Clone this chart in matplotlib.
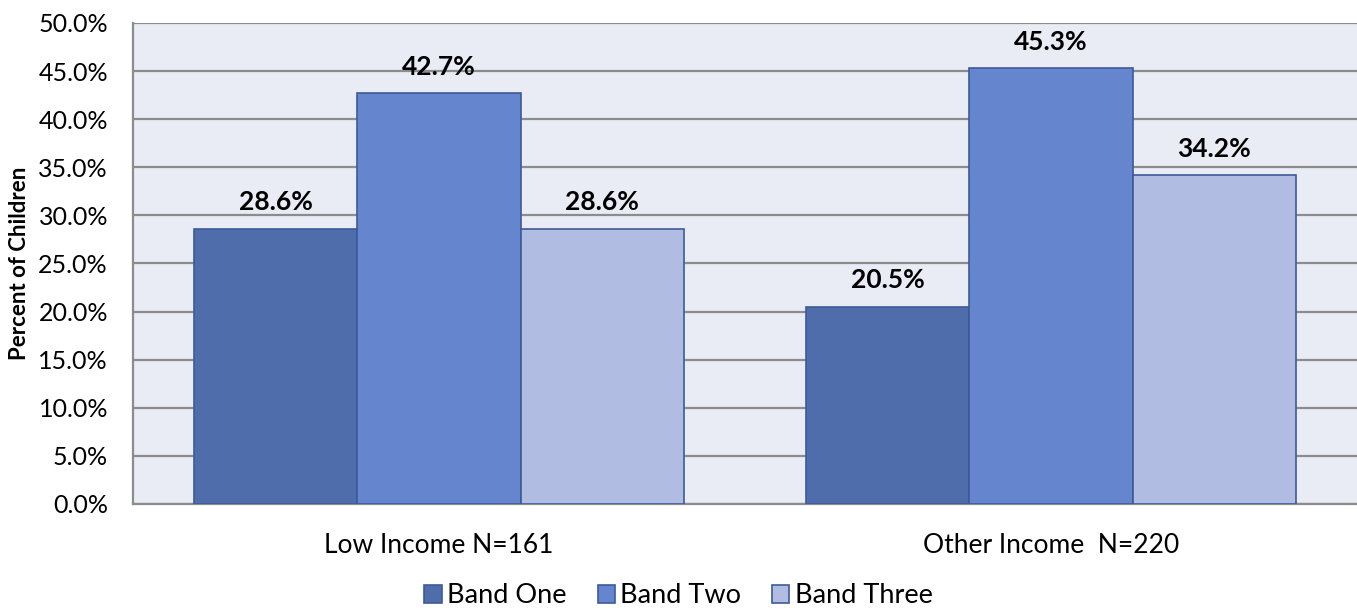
import numpy as np
import matplotlib
matplotlib.use("Agg")
import matplotlib.pyplot as plt
from matplotlib.ticker import FuncFormatter

groups = ["Low Income N=161", "Other Income  N=220"]
bands = ["Band One", "Band Two", "Band Three"]
band_one = [28.6, 20.5]
band_two = [42.7, 45.3]
band_three = [28.6, 34.2]

colors = ["#4F6DAB", "#6586CE", "#B0BCE2"]
edge = "#3D5A98"

plt.rcParams["font.family"] = ["Lato", "DejaVu Sans"]

fig = plt.figure(figsize=(13.57, 6.13), dpi=100)
ax = fig.add_axes([0.098, 0.178, 0.902, 0.7845])
ax.set_facecolor("#E9ECF5")

x = np.arange(len(groups))
w = 0.267
for i, (vals, name) in enumerate(zip([band_one, band_two, band_three], bands)):
    pos = x + (i - 1) * w
    ax.bar(pos, vals, width=w, color=colors[i], edgecolor=edge, linewidth=1.2,
           label=name, zorder=3)
    for px, v in zip(pos, vals):
        ax.text(px, v + 1.5, f"{v:.1f}%", ha="center", va="bottom",
                fontsize=19, fontweight="bold", color="black")

ax.set_xlim(-0.5, 1.5)
ax.set_ylim(0, 50)
ax.set_yticks(np.arange(0, 50.1, 5))
ax.yaxis.set_major_formatter(FuncFormatter(lambda v, p: f"{v:.1f}%"))
ax.grid(axis="y", color="#8C8C8C", linewidth=1.6, zorder=0)
ax.set_xticks(x)
ax.set_xticklabels(groups)
ax.tick_params(axis="y", length=0, labelsize=18, pad=18)
ax.tick_params(axis="x", length=0, labelsize=19, pad=21)
for s in ["top", "right"]:
    ax.spines[s].set_visible(False)
for s in ["left", "bottom"]:
    ax.spines[s].set_color("#8C8C8C")
    ax.spines[s].set_linewidth(1.6)

ax.set_ylabel("Percent of Children", fontsize=16, fontweight="bold")
ax.yaxis.set_label_coords(-0.084, 0.5)

fig.legend(loc="lower center", bbox_to_anchor=(0.5, -0.032), ncol=3, frameon=False,
           fontsize=19.5, handlelength=0.63, handleheight=0.63, handletextpad=0.2,
           columnspacing=1.15)

fig.savefig("out.png", dpi=100)
